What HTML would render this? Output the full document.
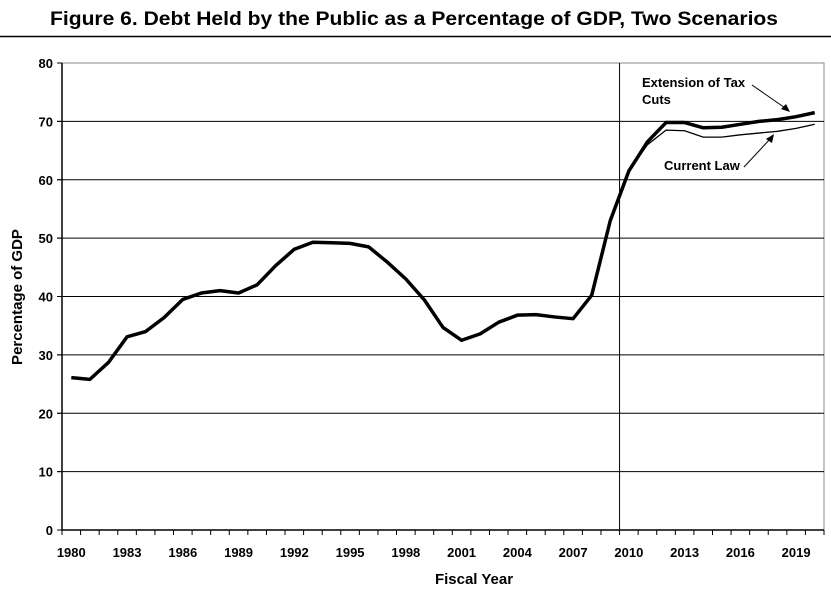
<!DOCTYPE html>
<html><head><meta charset="utf-8"><style>
body{margin:0;background:#fff;}
svg{display:block;font-family:"Liberation Sans",Arial,sans-serif;}
</style></head><body>
<svg id="chart" width="831" height="598" viewBox="0 0 831 598">
<text x="414" y="25" text-anchor="middle" font-size="19" font-weight="bold" textLength="728" lengthAdjust="spacingAndGlyphs">Figure 6. Debt Held by the Public as a Percentage of GDP, Two Scenarios</text>
<line x1="0" y1="36.5" x2="831" y2="36.5" stroke="#000" stroke-width="1.5"/>
<g id="grid"></g>
<g id="axes"></g>
<g id="series"></g>
<text x="474" y="584" text-anchor="middle" font-size="15" font-weight="bold">Fiscal Year</text>
<text transform="translate(22,297) rotate(-90)" text-anchor="middle" font-size="15" font-weight="bold">Percentage of GDP</text>
<g>
<text x="642" y="87" font-size="13" font-weight="bold">Extension of Tax</text>
<text x="642" y="104" font-size="13" font-weight="bold">Cuts</text>
<line x1="752" y1="85" x2="788" y2="110" stroke="#000" stroke-width="1"/>
<polygon points="790,112 781,109 786,104" fill="#000"/>
</g>
<g>
<text x="664" y="170" font-size="13" font-weight="bold">Current Law</text>
<line x1="744" y1="167" x2="771" y2="138" stroke="#000" stroke-width="1"/>
<polygon points="774,134 772,143 766,139" fill="#000"/>
</g>
</svg>
<script>
const years=[];for(let y=1980;y<=2020;y++)years.push(y);
const extensionValues=[26.1,25.8,28.7,33.1,34.0,36.4,39.5,40.6,41.0,40.6,42.0,45.3,48.1,49.3,49.2,49.1,48.5,45.9,43.0,39.4,34.7,32.5,33.6,35.6,36.8,36.9,36.5,36.2,40.2,53.0,61.5,66.5,69.8,69.8,68.9,69.0,69.5,70.0,70.3,70.8,71.5];
const currentLawYears=[2010,2011,2012,2013,2014,2015,2016,2017,2018,2019,2020];
const currentLawValues=[61.5,66.0,68.5,68.4,67.3,67.3,67.7,68.0,68.3,68.8,69.5];
const yTicks=[0,10,20,30,40,50,60,70,80];
const xLabels=[1980,1983,1986,1989,1992,1995,1998,2001,2004,2007,2010,2013,2016,2019];
const NS="http://www.w3.org/2000/svg";
const L=62,R=824,T=63,B=530,yMax=80;
const slot=(R-L)/years.length;
const xEdge=i=>L+i*slot;
const xC=yr=>L+(yr-years[0]+0.5)*slot;
const yS=v=>B-v/yMax*(B-T);
function mk(tag,attrs,parent){const e=document.createElementNS(NS,tag);for(const k in attrs)e.setAttribute(k,attrs[k]);parent.appendChild(e);return e;}
const grid=document.getElementById('grid'),axes=document.getElementById('axes'),ser=document.getElementById('series');
// frame
const fr=mk('rect',{x:L,y:T,width:R-L,height:B-T,fill:'none',stroke:'#888','stroke-width':1},grid);


yTicks.forEach(v=>{
 const g=mk('line',{x1:L-5,x2:(v===0||v===80)?L:R,y1:yS(v),y2:yS(v),stroke:v===80?'#888':'#000','stroke-width':1},grid);
 
 
 mk('line',{x1:L-5,x2:L,y1:yS(v),y2:yS(v),stroke:'#000'},grid);
 const t=mk('text',{x:L-9,y:yS(v)+5,'text-anchor':'end','font-size':13,'font-weight':'bold'},axes);
 t.textContent=v;
 
 
});
// 2010 divider
const dv=mk('line',{x1:xEdge(2010-years[0]),x2:xEdge(2010-years[0]),y1:T,y2:B,stroke:'#000','stroke-width':1},grid);


mk('line',{x1:L,x2:L,y1:T,y2:B,stroke:'#000','stroke-width':1.5},axes);
mk('line',{x1:L,x2:R,y1:B,y2:B,stroke:'#000','stroke-width':1.5},axes);
for(let i=0;i<=years.length;i++)mk('line',{x1:xEdge(i),x2:xEdge(i),y1:B,y2:B+5,stroke:'#000'},axes);
xLabels.forEach(yr=>{
 const t=mk('text',{x:xC(yr),y:B+27,'text-anchor':'middle','font-size':13,'font-weight':'bold'},axes);
 t.textContent=yr;
 
 
});
const p2=mk('polyline',{points:currentLawYears.map((y,i)=>xC(y)+','+yS(currentLawValues[i])).join(' '),fill:'none',stroke:'#000','stroke-width':1.3},ser);


const p1=mk('polyline',{points:years.map((y,i)=>xC(y)+','+yS(extensionValues[i])).join(' '),fill:'none',stroke:'#000','stroke-width':3.5,'stroke-linejoin':'round'},ser);


</script>
</body></html>
